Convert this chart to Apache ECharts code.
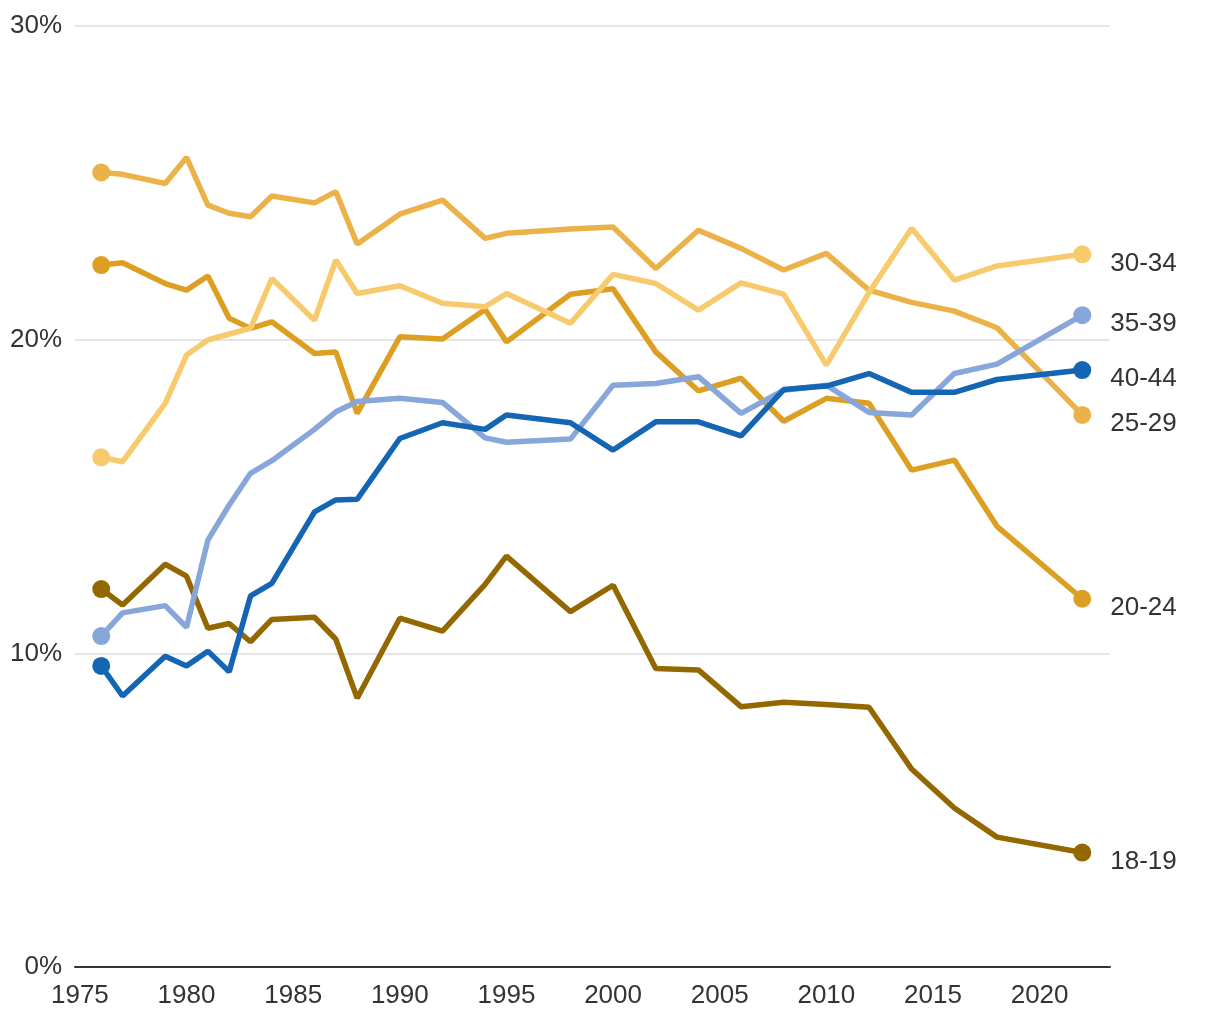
<!DOCTYPE html>
<html>
<head>
<meta charset="utf-8">
<script src="https://cdn.jsdelivr.net/npm/echarts@6/dist/echarts.min.js"></script>
<style>
html,body{margin:0;padding:0;background:#fff;}
#chart{width:1220px;height:1020px;}
</style>
</head>
<body>
<div id="chart"></div>
<script>
const years = [1976,1977,1979,1980,1981,1982,1983,1984,1986,1987,1988,1990,1992,1994,1995,1998,2000,2002,2004,2006,2008,2010,2012,2014,2016,2018,2022];
const xTickLabels = [1975,1980,1985,1990,1995,2000,2005,2010,2015,2020];
const seriesNames = ['18-19','20-24','25-29','30-34','35-39','40-44'];

const age1819 = [12.05,11.54,12.84,12.46,10.80,10.95,10.37,11.08,11.15,10.45,8.57,11.12,10.71,12.20,13.10,11.33,12.17,9.52,9.47,8.30,8.44,8.37,8.28,6.31,5.07,4.14,3.65];
const age2024 = [22.38,22.45,21.79,21.58,22.03,20.68,20.36,20.57,19.56,19.61,17.65,20.09,20.02,20.96,19.93,21.45,21.62,19.61,18.37,18.77,17.40,18.13,17.97,15.84,16.16,14.05,11.74];
const age2529 = [25.33,25.27,24.98,25.81,24.29,24.03,23.92,24.58,24.36,24.72,23.05,24.00,24.45,23.23,23.39,23.53,23.59,22.27,23.49,22.91,22.22,22.75,21.58,21.19,20.91,20.38,17.60];
const age3034 = [16.25,16.11,17.97,19.51,19.99,20.18,20.36,21.95,20.62,22.54,21.47,21.72,21.16,21.05,21.47,20.52,22.08,21.79,20.94,21.81,21.45,19.19,21.50,23.55,21.90,22.35,22.72];
const age3539 = [10.55,11.29,11.52,10.83,13.61,14.73,15.74,16.14,17.14,17.70,18.03,18.13,18.00,16.87,16.73,16.83,18.55,18.60,18.82,17.65,18.39,18.55,17.68,17.60,18.92,19.22,20.78];
const age4044 = [9.60,8.64,9.91,9.60,10.07,9.41,11.83,12.23,14.51,14.89,14.91,16.85,17.35,17.14,17.60,17.35,16.48,17.38,17.38,16.93,18.41,18.52,18.92,18.32,18.32,18.73,19.03];

const values = [age1819, age2024, age2529, age3034, age3539, age4044];
const colors = ['#946800','#dc9f22','#ebb24a','#f8ca6e','#87a6da','#1565b5'];

const FONT = '"Liberation Sans", Arial, sans-serif';
const lastIdx = years.length - 1;

const series = seriesNames.map((name, i) => ({
  name: name,
  type: 'line',
  data: years.map((y, j) => [y, values[i][j]]),
  showSymbol: true,
  showAllSymbol: true,
  symbol: 'circle',
  symbolSize: (v, p) => (p.dataIndex === 0 || p.dataIndex === lastIdx) ? 18 : 0,
  itemStyle: { color: colors[i] },
  lineStyle: { color: colors[i], width: 5.5 },
  emphasis: { disabled: true },
  endLabel: {
    show: true,
    formatter: '{a}',
    color: '#333',
    fontSize: 26,
    fontFamily: FONT,
    distance: 28,
    offset: [0, 9]
  }
}));

const chart = echarts.init(document.getElementById('chart'), null, { renderer: 'canvas' });
chart.setOption({
  animation: false,
  backgroundColor: '#fff',
  grid: { left: 75, right: 110, top: 26, bottom: 53, containLabel: false },
  xAxis: {
    type: 'value',
    min: 1974.77,
    max: 2023.3,
    axisLine: { show: true, lineStyle: { color: '#333', width: 2 } },
    axisTick: { show: false },
    splitLine: { show: false },
    axisLabel: {
      customValues: xTickLabels,
      formatter: v => String(v),
      color: '#333',
      fontSize: 26,
      fontFamily: FONT,
      margin: 16
    }
  },
  yAxis: {
    type: 'value',
    min: 0,
    max: 30,
    interval: 10,
    axisLine: { show: false },
    axisTick: { show: false },
    splitLine: { show: true, lineStyle: { color: '#dddddd', width: 1.5 } },
    axisLabel: {
      formatter: '{value}%',
      color: '#333',
      fontSize: 26,
      fontFamily: FONT,
      margin: 13
    }
  },
  series: series
});
</script>
</body>
</html>
